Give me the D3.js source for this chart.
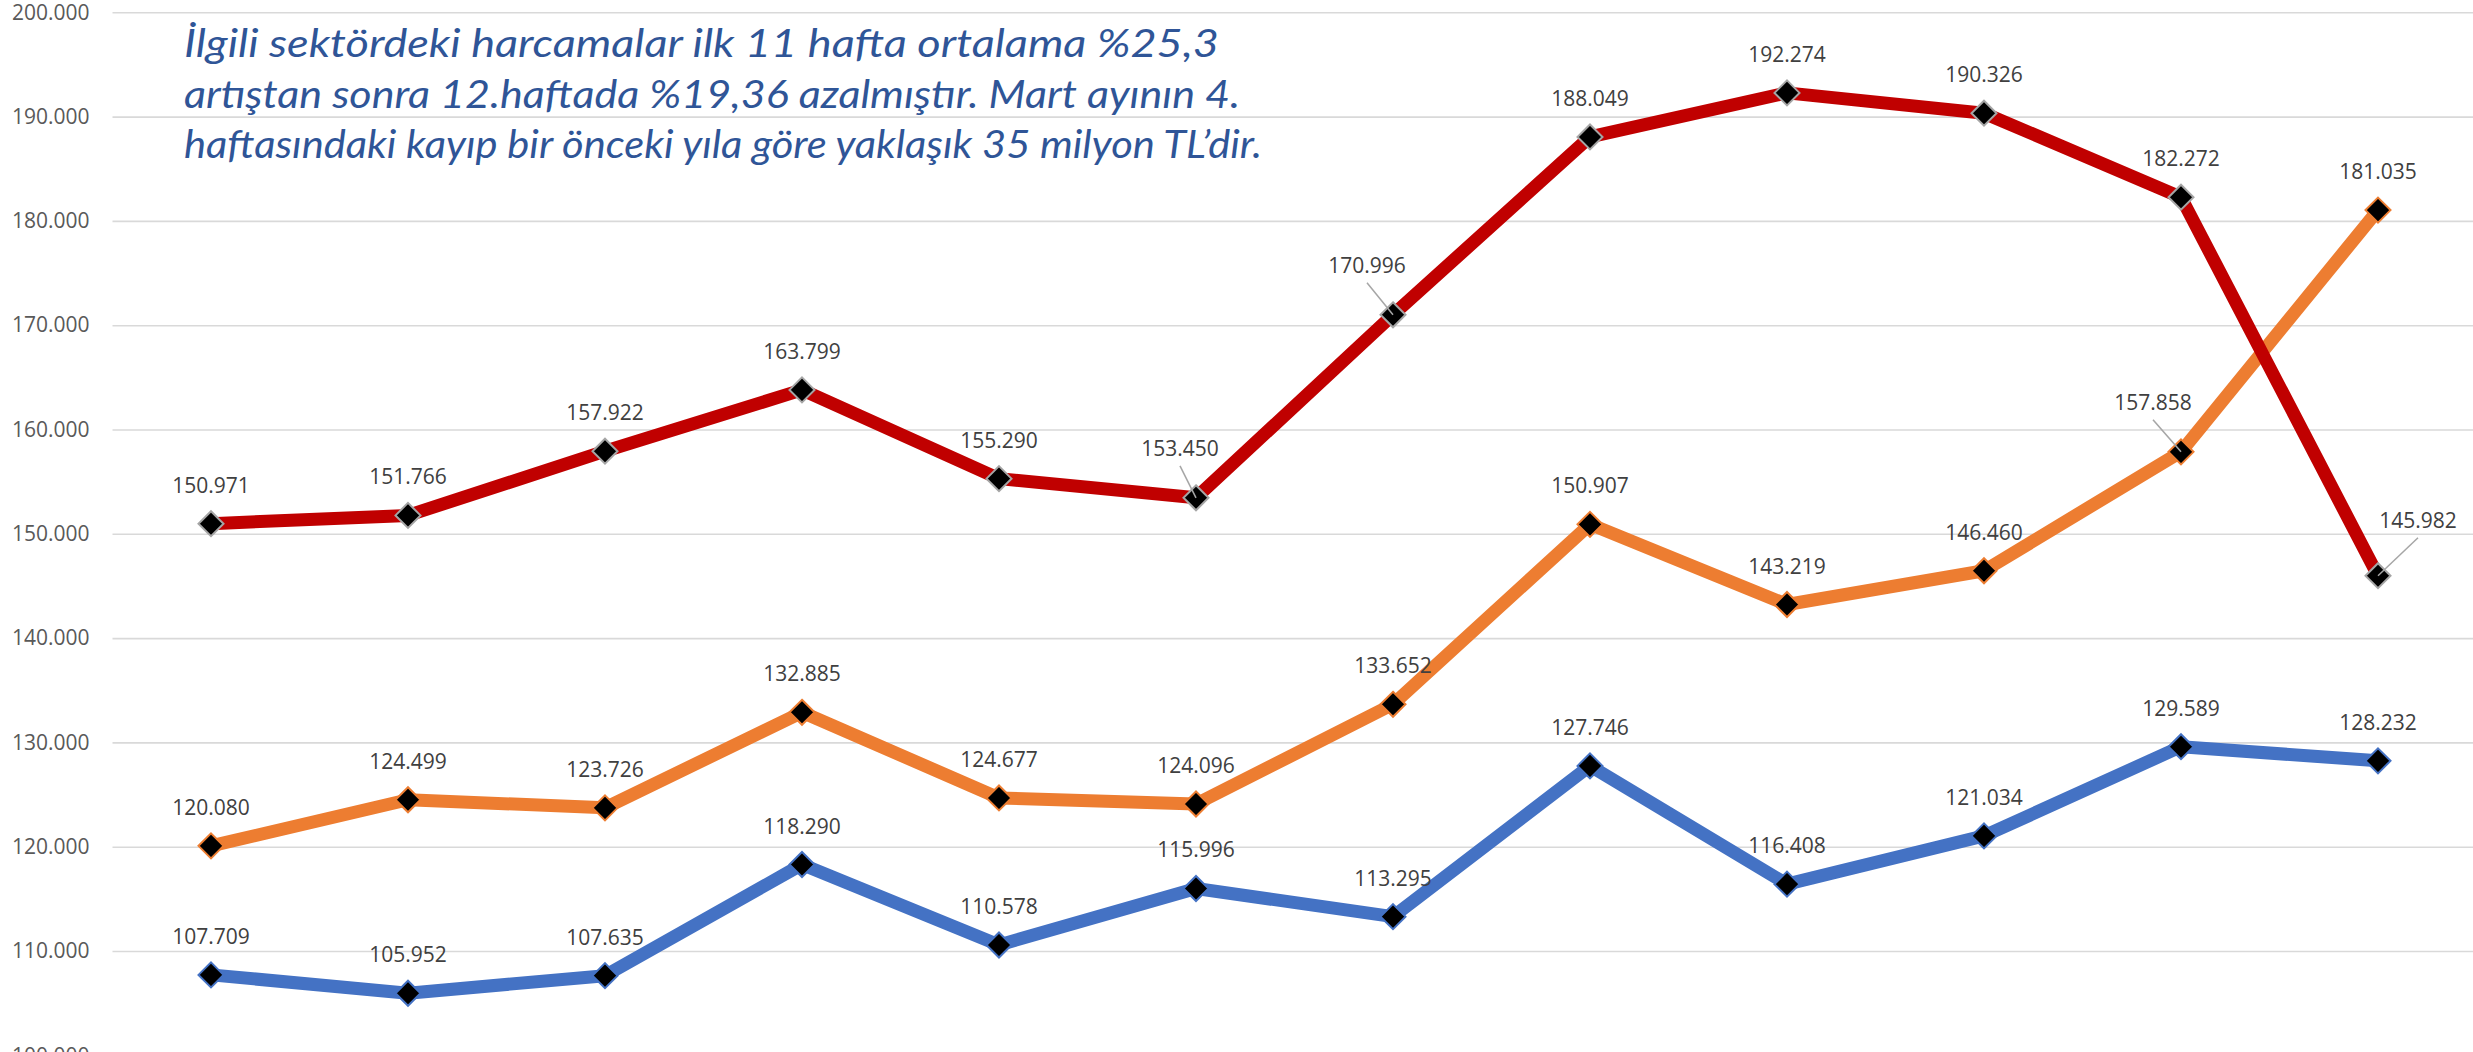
<!DOCTYPE html>
<html>
<head>
<meta charset="utf-8">
<script src="https://cdn.jsdelivr.net/npm/d3@7"></script>
<style>
  body { margin: 0; background: #fff; }
  svg { display: block; }
</style>
</head>
<body>
<div id="chart"></div>
<script>
// weekly values
const weeks = [1, 2, 3, 4, 5, 6, 7, 8, 9, 10, 11, 12]
const redValues = [150971, 151766, 157922, 163799, 155290, 153450, 170996, 188049, 192274, 190326, 182272, 145982]
const orangeValues = [120080, 124499, 123726, 132885, 124677, 124096, 133652, 150907, 143219, 146460, 157858, 181035]
const blueValues = [107709, 105952, 107635, 118290, 110578, 115996, 113295, 127746, 116408, 121034, 129589, 128232]
const yTicks = [100000, 110000, 120000, 130000, 140000, 150000, 160000, 170000, 180000, 190000, 200000]
const noteLines = [
	"İlgili sektördeki harcamalar ilk 11 hafta ortalama %25,3",
	"artıştan sonra 12.haftada %19,36 azalmıştır. Mart ayının 4.",
	"haftasındaki kayıp bir önceki yıla göre yaklaşık 35 milyon TL’dir."
]

const W = 2473, H = 1052
const plot = {left: 112.5, right: 2476.5, top: 12.3, bottom: 1055.3}

const tr = d3.formatLocale({decimal: ",", thousands: ".", grouping: [3], currency: ["", " TL"]})
const fmt = tr.format(",d")

const svg = d3.select("#chart").append("svg")
	.attr("width", W)
	.attr("height", H)

const x = d3.scalePoint().domain(weeks).range([plot.left, plot.right]).padding(0.5)
const y = d3.scaleLinear().domain([100000, 200000]).range([plot.bottom, plot.top])

// y axis + gridlines
const yAxis = d3.axisLeft(y)
	.tickValues(yTicks)
	.tickFormat(fmt)
	.tickSize(-(plot.right - plot.left))
	.tickPadding(23)

const gY = svg.append("g")
	.attr("transform", "translate(" + plot.left + ",0)")
	.call(yAxis)
gY.select(".domain").remove()
gY.selectAll(".tick line").attr("stroke", "#d9d9d9").attr("stroke-width", 1.6)
gY.selectAll(".tick text")
	.attr("fill", "#595959")
	.style("font-family", "'Open Sans', sans-serif")
	.style("font-size", "21px")

// series, drawn in excel order (last one on top)
const series = [
	{name: "blue", values: blueValues, color: "#4472c4", border: "#4472c4"},
	{name: "orange", values: orangeValues, color: "#ed7d31", border: "#ed7d31"},
	{name: "red", values: redValues, color: "#c00000", border: "#a5a5a5"}
]

// labels that excel pushed aside, with a leader line [dx, dy of baseline]
const moved = {
	"red-5": [-16, -42],
	"red-6": [-26, -42],
	"red-11": [40, -48],
	"orange-10": [-28, -42]
}

const line = d3.line()
	.x(function(d, i){ return x(weeks[i]) })
	.y(function(d){ return y(d) })

const diamond = "M0,-12.5L12.5,0L0,12.5L-12.5,0Z"

series.forEach(function(s){
	svg.append("path")
		.datum(s.values)
		.attr("d", line)
		.attr("fill", "none")
		.attr("stroke", s.color)
		.attr("stroke-width", 13)
		.attr("stroke-linejoin", "round")

	svg.append("g").selectAll("path")
		.data(s.values)
		.enter()
		.append("path")
		.attr("d", diamond)
		.attr("transform", function(d, i){ return "translate(" + x(weeks[i]) + "," + y(d) + ")" })
		.attr("fill", "#000")
		.attr("stroke", s.border)
		.attr("stroke-width", 2)
})

// data labels
series.forEach(function(s){
	const g = svg.append("g")
	s.values.forEach(function(v, i){
		const px = x(weeks[i]), py = y(v)
		const off = moved[s.name + "-" + i]
		let lx = px, ly = py - 31
		if (off) {
			lx = px + off[0]
			ly = py + off[1]
			g.append("line")
				.attr("x1", lx).attr("y1", ly + 10)
				.attr("x2", px).attr("y2", py)
				.attr("stroke", "#a6a6a6")
				.attr("stroke-width", 1.5)
		}
		g.append("text")
			.attr("x", lx)
			.attr("y", ly)
			.attr("text-anchor", "middle")
			.attr("fill", "#404040")
			.style("font-family", "'Open Sans', sans-serif")
			.style("font-size", "21px")
			.text(fmt(v))
	})
})

// annotation
const noteWidths = [1035, 1056, 1078]
svg.append("g").selectAll("text")
	.data(noteLines)
	.enter()
	.append("text")
	.attr("x", 184)
	.attr("y", function(d, i){ return 57 + i * 50.5 })
	.attr("textLength", function(d, i){ return noteWidths[i] })
	.attr("lengthAdjust", "spacingAndGlyphs")
	.attr("fill", "#2f5597")
	.style("font-family", "Lato, 'Open Sans', sans-serif")
	.style("font-style", "italic")
	.style("font-size", "38px")
	.text(function(d){ return d })
</script>
</body>
</html>
